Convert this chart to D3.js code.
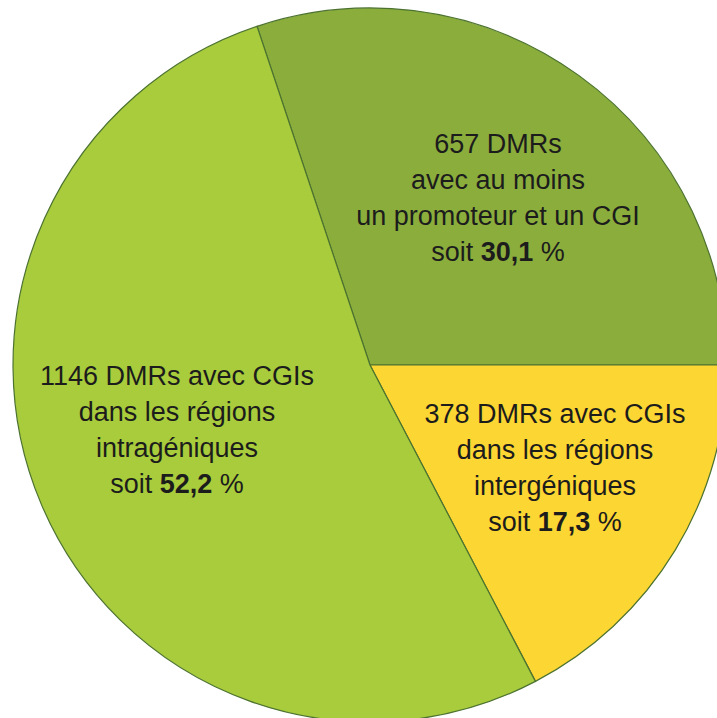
<!DOCTYPE html>
<html>
<head>
<meta charset="utf-8">
<script src="https://cdn.jsdelivr.net/npm/d3@7"></script>
<style>
  body { margin: 0; background: #fff; }
  svg { display: block; }
</style>
</head>
<body>
<script>
// donnees
var categories = ["promoteur_cgi", "intergenique", "intragenique"];
var counts = [657, 378, 1146];
var percents = ["30,1", "17,3", "52,2"];
var colors = ["#8bad3c", "#fcd632", "#a8cc3b"];
var labelLines = [
  ["657 DMRs", "avec au moins", "un promoteur et un CGI"],
  ["378 DMRs avec CGIs", "dans les régions", "intergéniques"],
  ["1146 DMRs avec CGIs", "dans les régions", "intragéniques"]
];
// position du bloc de texte (x centre, y premiere ligne)
var labelPos = [[498, 153], [555, 423], [177, 385]];

var w = 717;
var h = 718;
var cx = 370, cy = 365, r = 357;
var lineH = 36;

var total = d3.sum(counts);
var start = Math.PI / 2 - 2 * Math.PI * counts[0] / total;

var svg = d3.select("body")
  .append("svg")
  .attr("width", w)
  .attr("height", h);

var pie = d3.pie()
  .sort(null)
  .startAngle(start)
  .endAngle(start + 2 * Math.PI);

var arc = d3.arc().innerRadius(0).outerRadius(r);

var g = svg.append("g").attr("transform", "translate(" + cx + "," + cy + ")");

g.selectAll("path")
  .data(pie(counts))
  .enter()
  .append("path")
  .attr("d", arc)
  .attr("fill", function(d, i) { return colors[i]; })
  .attr("stroke", "#4c7230")
  .attr("stroke-width", 1.2);

// etiquettes
var labels = svg.selectAll("text.lab")
  .data(categories)
  .enter()
  .append("text")
  .attr("class", "lab")
  .attr("text-anchor", "middle")
  .attr("font-family", "Liberation Sans, Arial, sans-serif")
  .attr("font-size", 27)
  .attr("fill", "#1c1c1c");

labels.each(function(c, i) {
  var t = d3.select(this);
  labelLines[i].forEach(function(line, j) {
    t.append("tspan")
      .attr("x", labelPos[i][0])
      .attr("y", labelPos[i][1] + j * lineH)
      .text(line);
  });
  var last = t.append("tspan")
    .attr("x", labelPos[i][0])
    .attr("y", labelPos[i][1] + labelLines[i].length * lineH);
  last.append("tspan").text("soit ");
  last.append("tspan").attr("font-weight", "bold").text(percents[i]);
  last.append("tspan").text(" %");
});
</script>
</body>
</html>
